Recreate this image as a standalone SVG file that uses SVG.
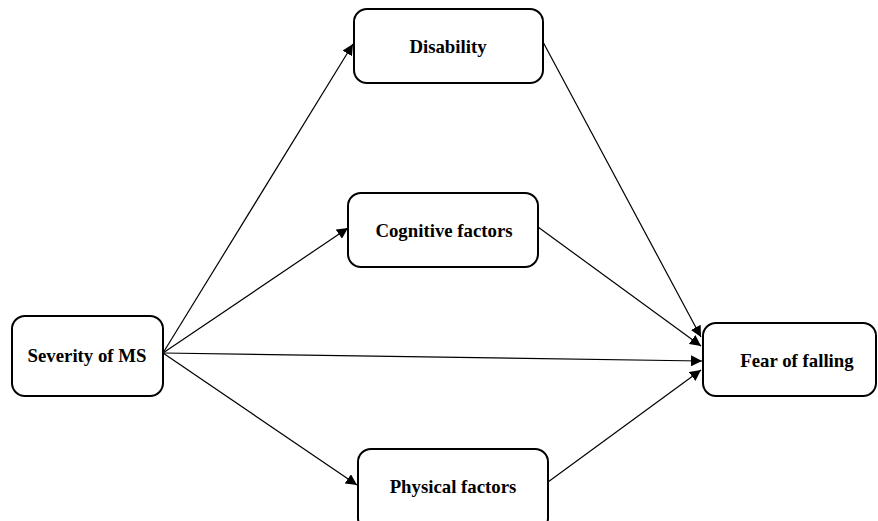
<svg xmlns="http://www.w3.org/2000/svg" width="878" height="521" viewBox="0 0 878 521">
<style>
.box{fill:#fff;stroke:#000;stroke-width:2}
.lbl{font-family:"Liberation Serif","Times New Roman",serif;font-weight:bold;font-size:18.8px;text-anchor:middle;fill:#000}
.edge{stroke:#000;stroke-width:1.2;fill:none;marker-end:url(#ah)}
</style>
<defs>
<marker id="ah" viewBox="0 0 10 10" refX="10" refY="5" markerWidth="11" markerHeight="11" markerUnits="userSpaceOnUse" orient="auto">
<path d="M0,0 L10,5 L0,10 z" fill="#000"/>
</marker>
</defs>
<rect width="878" height="521" fill="#fff"/>
<g id="connectors">
<line class="edge" x1="163" y1="353" x2="353" y2="44"/>
<line class="edge" x1="163" y1="353" x2="348" y2="228"/>
<line class="edge" x1="163" y1="353" x2="702" y2="361"/>
<line class="edge" x1="163" y1="353" x2="357" y2="485"/>
<line class="edge" x1="543" y1="42" x2="701" y2="337"/>
<line class="edge" x1="538" y1="227" x2="701" y2="346"/>
<line class="edge" x1="548" y1="482" x2="701" y2="370"/>
</g>
<g id="disability">
<rect class="box" x="354" y="9" width="189" height="74" rx="13"/>
<text class="lbl" x="448" y="53">Disability</text>
</g>
<g id="cognitive">
<rect class="box" x="348" y="193" width="190" height="74" rx="13"/>
<text class="lbl" x="444" y="237">Cognitive factors</text>
</g>
<g id="severity">
<rect class="box" x="12" y="316" width="151" height="80" rx="13"/>
<text class="lbl" x="87" y="362">Severity of MS</text>
</g>
<g id="fear">
<rect class="box" x="703" y="323" width="173" height="73" rx="13"/>
<text class="lbl" x="797" y="367">Fear of falling</text>
</g>
<g id="physical">
<rect class="box" x="358" y="449" width="190" height="82" rx="13"/>
<text class="lbl" x="453" y="493">Physical factors</text>
</g>
</svg>
